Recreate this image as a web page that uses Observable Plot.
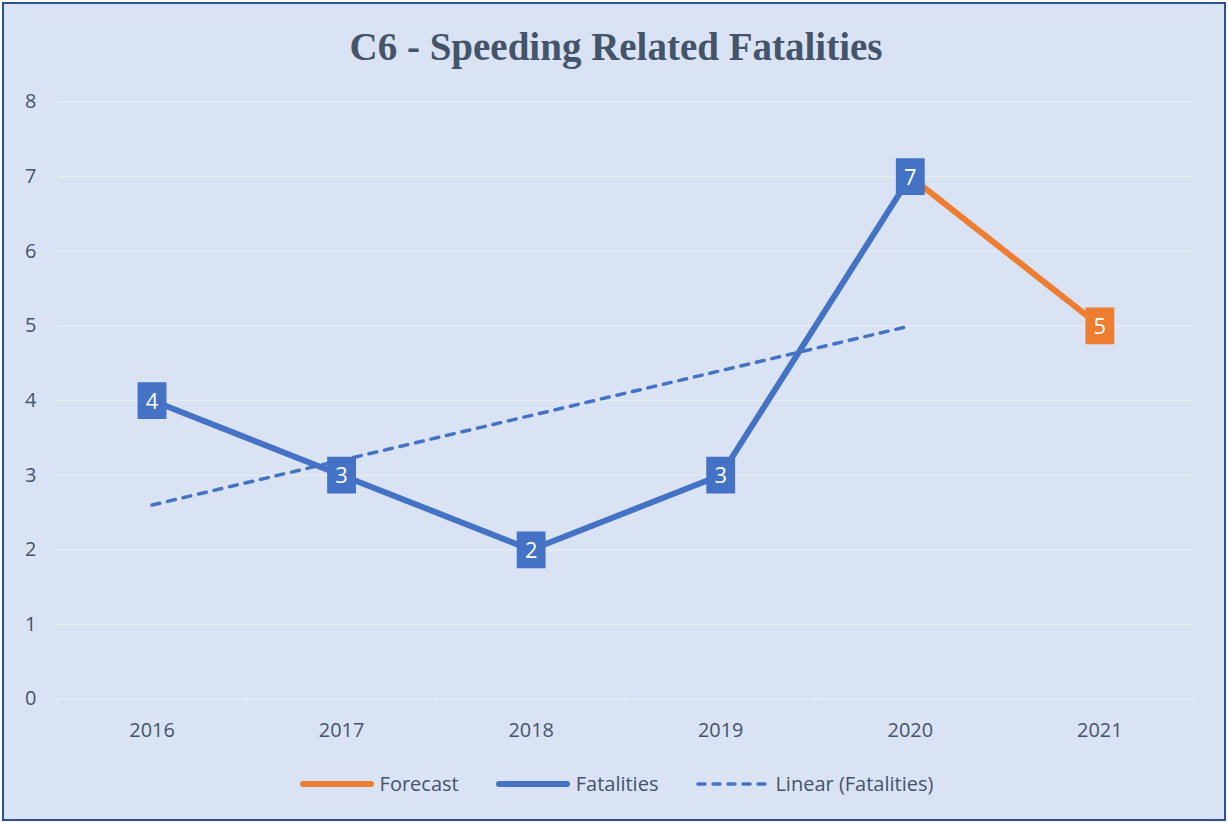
<!DOCTYPE html>
<html>
<head>
<meta charset="utf-8">
<script src="https://cdn.jsdelivr.net/npm/d3@7"></script>
<script src="https://cdn.jsdelivr.net/npm/@observablehq/plot@0.6"></script>
<style>
  html, body { margin: 0; padding: 0; background: #ffffff; }
  #frame { position: absolute; left: 2px; top: 2px; width: 1224px; height: 819px; box-sizing: border-box;
           border: 2px solid #2F528F; background: #DAE3F3; overflow: hidden; }
  #title { position: absolute; left: -2px; top: 20px; width: 1228px; text-align: center;
           font-family: "Liberation Serif", serif; font-weight: bold; font-size: 39px; color: #44546A; }
  #chart { position: absolute; left: -2px; top: -2px; }
  #legend { position: absolute; left: -2px; top: 766px; width: 1228px; display: flex; justify-content: center;
            align-items: center; font-family: "Open Sans", sans-serif; font-size: 20px; color: #44546A; }
  .item { display: flex; align-items: center; margin: 0 18px; }
  .item svg { margin-right: 5px; }
</style>
</head>
<body>
<div id="frame">
  <div id="title">C6 - Speeding Related Fatalities</div>
  <div id="chart"></div>
  <div id="legend"></div>
</div>
<script>
const years = [2016, 2017, 2018, 2019, 2020, 2021];
const fatalityYears = [2016, 2017, 2018, 2019, 2020];
const fatalities = [4, 3, 2, 3, 7];
const forecastYears = [2020, 2021];
const forecast = [7, 5];
const yTicks = [0, 1, 2, 3, 4, 5, 6, 7, 8];
const bandEdges = [2015.5, 2016.5, 2017.5, 2018.5, 2019.5, 2020.5, 2021.5];

const blue = "#4472C4", orange = "#ED7D31", grid = "#E6EBF2", txt = "#44546A";

const fatData = fatalityYears.map((y, i) => ({year: y, value: fatalities[i]}));
const fcData = forecastYears.map((y, i) => ({year: y, value: forecast[i]}));
const labelData = [...fatData.map(d => ({...d, c: blue})), {...fcData[1], c: orange}];

const box = {draw(context) { context.rect(-14.5, -18.5, 29, 37); }};

const chart = Plot.plot({
  width: 1228, height: 823,
  marginLeft: 55, marginRight: 30, marginTop: 100, marginBottom: 123,
  style: {background: "transparent", fontFamily: "Open Sans, sans-serif", fontSize: "20px", color: txt},
  x: {domain: [2015.5, 2021.5]},
  y: {domain: [0, 8]},
  marks: [
    Plot.ruleY(yTicks, {stroke: grid, strokeWidth: 1.5}),
    Plot.axisY({ticks: yTicks, tickSize: 0, tickPadding: 21, label: null, fill: txt, fontSize: 20}),
    Plot.axisX({ticks: years, tickFormat: "d", tickSize: 0, tickPadding: 24, label: null, fill: txt, fontSize: 20}),
    Plot.axisX({ticks: bandEdges, tickFormat: () => "", tickSize: 6, stroke: grid, strokeWidth: 1.5, label: null}),
    Plot.linearRegressionY(fatData, {x: "year", y: "value", ci: 0, stroke: blue, strokeWidth: 3.5, strokeDasharray: "8,8", strokeLinecap: "round"}),
    Plot.line(fatData, {x: "year", y: "value", stroke: blue, strokeWidth: 6}),
    Plot.line(fcData, {x: "year", y: "value", stroke: orange, strokeWidth: 6}),
    Plot.dot(labelData, {x: "year", y: "value", symbol: box, fill: "c", r: 10}),
    Plot.text(labelData, {x: "year", y: "value", text: d => String(d.value), fill: "white", fontSize: 22, dy: 1})
  ]
});
document.getElementById("chart").appendChild(chart);

const legendItems = [
  {label: "Forecast", color: orange, dash: null, w: 6},
  {label: "Fatalities", color: blue, dash: null, w: 6},
  {label: "Linear (Fatalities)", color: blue, dash: "7,8", w: 3.5}
];
const legend = document.getElementById("legend");
legendItems.forEach(it => {
  const div = document.createElement("div");
  div.className = "item";
  div.innerHTML = `<svg width="76" height="10"><line x1="4" y1="5" x2="72" y2="5" stroke="${it.color}" stroke-width="${it.w}" stroke-linecap="round" ${it.dash ? `stroke-dasharray="${it.dash}"` : ""}/></svg><span>${it.label}</span>`;
  legend.appendChild(div);
});
</script>
</body>
</html>
